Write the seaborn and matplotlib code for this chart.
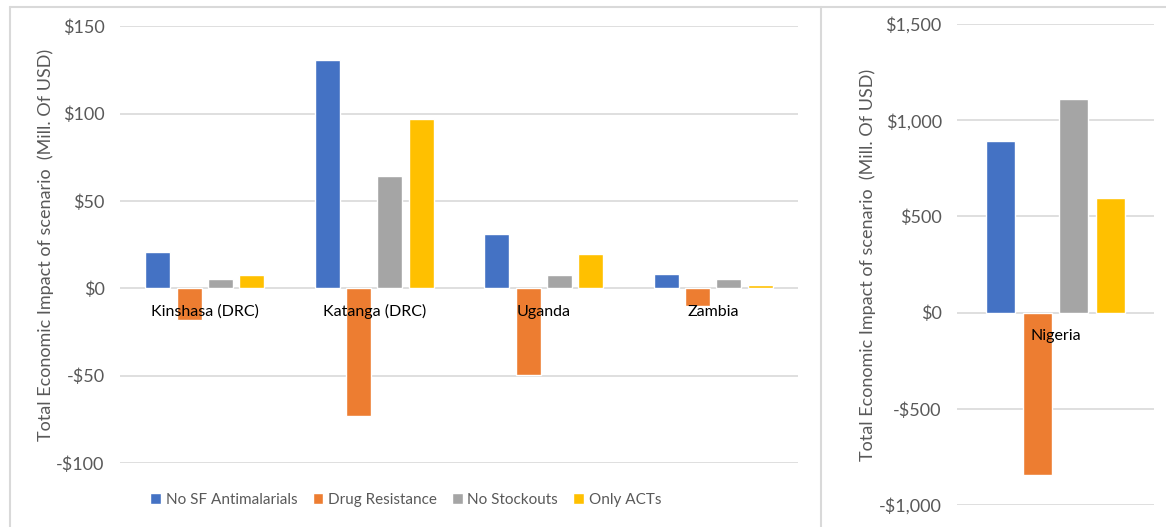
import matplotlib
matplotlib.use('Agg')
from matplotlib import pyplot as plt
from matplotlib.ticker import FuncFormatter
from matplotlib.lines import Line2D
import pandas as pd
import seaborn as sns

# data (million USD)
scenarios = ['No SF Antimalarials', 'Drug Resistance', 'No Stockouts', 'Only ACTs']
colors = ['#4472C4', '#ED7D31', '#A5A5A5', '#FFC000']

regions = ['Kinshasa (DRC)', 'Katanga (DRC)', 'Uganda', 'Zambia']
no_sf = [20.7, 130.8, 31.0, 8.1]
drug_res = [-18.4, -73.0, -49.4, -10.3]
no_stock = [5.4, 64.3, 7.6, 5.4]
only_acts = [7.6, 96.9, 19.8, 1.6]

nigeria = ['Nigeria']
ng_no_sf = [891]
ng_drug_res = [-846]
ng_no_stock = [1111]
ng_only_acts = [596]

left_ticks = [-100, -50, 0, 50, 100, 150]
right_ticks = [-1000, -500, 0, 500, 1000, 1500]

ylabel = 'Total Economic Impact of scenario  (Mill. Of USD)'


def long_form(names, series):
    rows = []
    for sc, vals in zip(scenarios, series):
        for n, v in zip(names, vals):
            rows.append({'Region': n, 'Scenario': sc, 'Value': v})
    return pd.DataFrame(rows)


df_left = long_form(regions, [no_sf, drug_res, no_stock, only_acts])
df_right = long_form(nigeria, [ng_no_sf, ng_drug_res, ng_no_stock, ng_only_acts])

sns.set_style('white')
plt.rcParams['font.family'] = ['Lato', 'DejaVu Sans']

fig = plt.figure(figsize=(11.66, 5.27), dpi=100)
ax1 = fig.add_axes([0.1029, 0.1214, 0.5815, 0.829])
ax2 = fig.add_axes([0.8208, 0.0417, 0.169, 0.9127])

grey = '#595959'
grid = '#d9d9d9'


def dollars(v, pos):
    s = '${:,.0f}'.format(abs(v))
    return '-' + s if v < 0 else s


def style(ax, data, ticks, names, show_legend):
    sns.barplot(data=data, x='Region', y='Value', hue='Scenario',
                hue_order=scenarios, palette=colors, saturation=1,
                width=0.74, gap=0.2, order=names, ax=ax,
                legend=show_legend, zorder=2)
    ax.set_ylim(ticks[0], ticks[-1])
    ax.set_yticks(ticks)
    ax.yaxis.set_major_formatter(FuncFormatter(dollars))
    ax.grid(axis='y', color=grid, linewidth=1.2, zorder=0)
    ax.set_axisbelow(True)
    for s in ax.spines.values():
        s.set_visible(False)
    ax.tick_params(axis='y', length=0, labelsize=13, labelcolor=grey, pad=11)
    ax.tick_params(axis='x', length=0, labelbottom=False)
    ax.set_xlabel('')
    ax.set_ylabel(ylabel, fontsize=13, color=grey)
    for i, n in enumerate(names):
        ax.annotate(n, xy=(i, 0), xytext=(0, -17), textcoords='offset points',
                    ha='center', va='center', fontsize=11.5, color='black',
                    zorder=5)


style(ax1, df_left, left_ticks, regions, True)
style(ax2, df_right, right_ticks, nigeria, False)
ax1.yaxis.set_label_coords(-0.097, 0.5)
ax2.yaxis.set_label_coords(-0.411, 0.5)

handles, labels = ax1.get_legend_handles_labels()
ax1.legend_.remove()
fig.legend(handles, labels, loc='center', bbox_to_anchor=(0.348, 0.051),
           ncol=4, frameon=False, fontsize=11, labelcolor=grey,
           handlelength=0.7, handleheight=0.7, handletextpad=0.3,
           columnspacing=1.0)

# chart frames like the Excel export
fc = '#d9d9d9'
fig.add_artist(Line2D([0.0086, 1.0], [0.9867, 0.9867], color=fc, lw=1.5))
fig.add_artist(Line2D([0.0086, 0.0086], [0.0, 0.9867], color=fc, lw=1.5))
fig.add_artist(Line2D([0.704, 0.704], [0.0, 0.9867], color=fc, lw=1.5))

fig.savefig('out.png', dpi=100)
